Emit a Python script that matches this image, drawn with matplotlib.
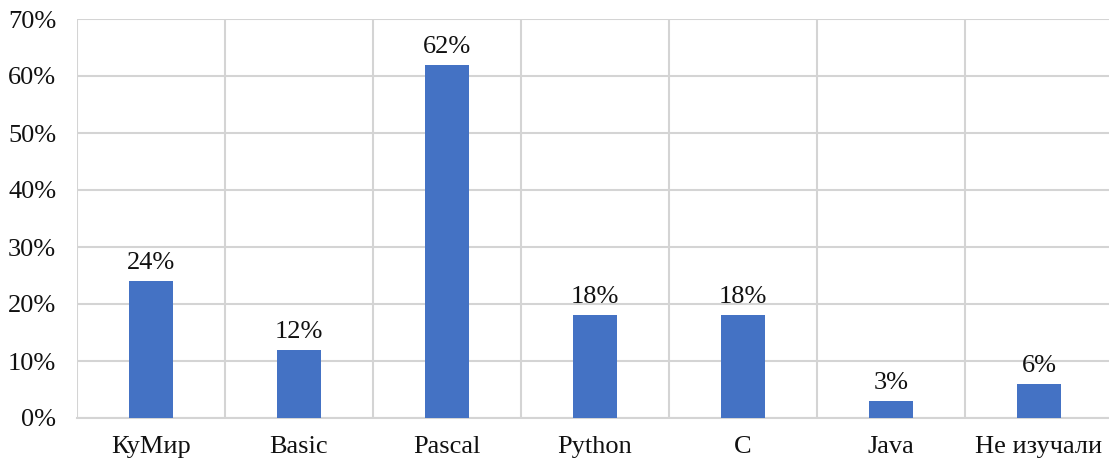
import matplotlib.pyplot as plt
import numpy as np
from matplotlib.ticker import FixedLocator, PercentFormatter

languages = ["КуМир", "Basic", "Pascal", "Python", "C", "Java", "Не изучали"]
shares = [24, 12, 62, 18, 18, 3, 6]
y_ticks = [0, 10, 20, 30, 40, 50, 60, 70]

plt.rcParams['font.family'] = ['Liberation Serif', 'DejaVu Serif']

fig = plt.figure(figsize=(11.09, 4.63), dpi=100)
ax = fig.add_axes([77 / 1109, 45 / 463, 1036 / 1109, 399 / 463])

x = np.arange(len(languages))
bars = ax.bar(x, shares, width=0.3, color="#4472C4", zorder=3)

for rect, val in zip(bars, shares):
    ax.annotate(f"{val}%", (rect.get_x() + rect.get_width() / 2, rect.get_height()),
                xytext=(0, 5), textcoords="offset points",
                ha="center", va="bottom", fontsize=19, color="#111111")

ax.set_xlim(-0.5, len(languages) - 0.5)
ax.set_ylim(0, 70)
ax.set_yticks(y_ticks)
ax.yaxis.set_major_formatter(PercentFormatter(decimals=0))
ax.set_xticks(x)
ax.set_xticklabels(languages)
ax.xaxis.set_minor_locator(FixedLocator(np.arange(-0.5, len(languages), 1.0)))

ax.grid(axis="y", which="major", color="#d4d4d4", linewidth=1.5, zorder=0)
ax.grid(axis="x", which="minor", color="#d4d4d4", linewidth=1.5, zorder=0)
ax.grid(axis="x", which="major", visible=False)

for side in ["top", "right", "left"]:
    ax.spines[side].set_visible(False)
ax.spines["bottom"].set_color("#d4d4d4")
ax.spines["bottom"].set_linewidth(1.5)

ax.tick_params(axis="both", which="both", length=0, labelsize=19, colors="#111111")
ax.tick_params(axis="y", pad=15)
ax.tick_params(axis="x", pad=13)

fig.savefig("out.png", dpi=100)
